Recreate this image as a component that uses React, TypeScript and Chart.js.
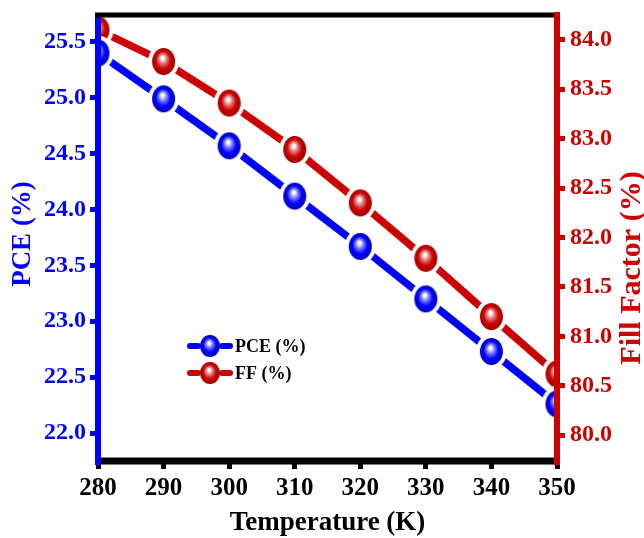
import React, { useEffect, useRef } from 'react';
import { Chart, registerables } from 'chart.js';

Chart.register(...registerables);

const temperatures = [280, 290, 300, 310, 320, 330, 340, 350];
const pceValues = [25.40, 24.99, 24.57, 24.12, 23.67, 23.20, 22.73, 22.26];
const ffValues = [84.10, 83.78, 83.36, 82.89, 82.35, 81.79, 81.20, 80.62];
const pceTicks = [22.0, 22.5, 23.0, 23.5, 24.0, 24.5, 25.0, 25.5];
const ffTicks = [80.0, 80.5, 81.0, 81.5, 82.0, 82.5, 83.0, 83.5, 84.0];
const tempTicks = [280, 290, 300, 310, 320, 330, 340, 350];
const pceLabel = 'PCE (%)';
const ffLabel = 'FF (%)';
const xTitle = 'Temperature (K)';
const yLeftTitle = 'PCE (%)';
const yRightTitle = 'Fill Factor (%)';

const BLUE = '#0000ff';
const RED = '#cc0000';
const SERIF = '"Liberation Serif", "Times New Roman", serif';

function makeSphere(color: string, light: string, dark: string, rx: number, ry: number, ring: number) {
  const c = document.createElement('canvas');
  const w = Math.ceil(2 * (rx + ring));
  const h = Math.ceil(2 * (ry + ring));
  c.width = w;
  c.height = h;
  const ctx = c.getContext('2d')!;
  const cx = w / 2;
  const cy = h / 2;
  if (ring > 0) {
    ctx.fillStyle = '#ffffff';
    ctx.beginPath();
    ctx.ellipse(cx, cy, rx + ring, ry + ring, 0, 0, Math.PI * 2);
    ctx.fill();
  }
  ctx.save();
  ctx.translate(cx, cy);
  ctx.scale(1, ry / rx);
  const g = ctx.createRadialGradient(-rx * 0.1, -rx * 0.3, 0, 0, 0, rx);
  g.addColorStop(0, '#ffffff');
  g.addColorStop(0.1, '#ffffff');
  g.addColorStop(0.35, light);
  g.addColorStop(0.65, color);
  g.addColorStop(1, dark);
  ctx.fillStyle = g;
  ctx.beginPath();
  ctx.arc(0, 0, rx, 0, Math.PI * 2);
  ctx.fill();
  ctx.restore();
  return c;
}

export default function App() {
  const ref = useRef<HTMLCanvasElement>(null);

  useEffect(() => {
    if (!ref.current) return;
    const blueSphere = makeSphere(BLUE, '#7a7aff', '#0000c0', 11.5, 13.5, 4);
    const redSphere = makeSphere(RED, '#e07a7a', '#a00000', 11.5, 13.5, 4);
    const blueSmall = makeSphere(BLUE, '#7a7aff', '#0000c0', 10, 11, 0);
    const redSmall = makeSphere(RED, '#e07a7a', '#a00000', 10, 11, 0);

    const framePlugin = {
      id: 'frame',
      afterDatasetsDraw(chart: any) {
        const { ctx, chartArea: a } = chart;
        ctx.save();
        ctx.lineCap = 'butt';
        // left blue axis
        ctx.strokeStyle = BLUE;
        ctx.lineWidth = 6;
        ctx.beginPath();
        ctx.moveTo(a.left, a.top);
        ctx.lineTo(a.left, a.bottom + 4);
        ctx.stroke();
        // bottom black
        ctx.strokeStyle = '#000';
        ctx.lineWidth = 7;
        ctx.beginPath();
        ctx.moveTo(a.left + 3, a.bottom);
        ctx.lineTo(a.right - 3, a.bottom);
        ctx.stroke();
        // top black
        ctx.lineWidth = 5;
        ctx.beginPath();
        ctx.moveTo(a.left - 3, a.top);
        ctx.lineTo(a.right - 3, a.top);
        ctx.stroke();
        // right red axis
        ctx.strokeStyle = RED;
        ctx.lineWidth = 6;
        ctx.beginPath();
        ctx.moveTo(a.right, a.top - 3);
        ctx.lineTo(a.right, a.bottom + 4);
        ctx.stroke();

        // titles
        ctx.textAlign = 'center';
        ctx.textBaseline = 'middle';
        ctx.fillStyle = BLUE;
        ctx.font = `bold 27px ${SERIF}`;
        ctx.save();
        ctx.translate(23, (a.top + a.bottom) / 2 - 4);
        ctx.rotate(-Math.PI / 2);
        ctx.fillText(yLeftTitle, 0, 0);
        ctx.restore();

        ctx.fillStyle = RED;
        ctx.font = `bold 30px ${SERIF}`;
        ctx.save();
        ctx.translate(a.right + 75, (a.top + a.bottom) / 2 + 30);
        ctx.rotate(-Math.PI / 2);
        ctx.fillText(yRightTitle, 0, 0);
        ctx.restore();

        ctx.fillStyle = '#000';
        ctx.font = `bold 27px ${SERIF}`;
        ctx.textBaseline = 'alphabetic';
        ctx.fillText(xTitle, (a.left + a.right) / 2, a.bottom + 69);

        // legend
        const items = [
          { label: chart.data.datasets[0].label, color: BLUE, img: blueSmall },
          { label: chart.data.datasets[1].label, color: RED, img: redSmall },
        ];
        items.forEach((it, i) => {
          const y = a.top + 331 + i * 27;
          const x0 = a.left + 90;
          ctx.strokeStyle = it.color;
          ctx.lineWidth = 6;
          ctx.lineCap = 'round';
          ctx.beginPath();
          ctx.moveTo(x0 + 2, y);
          ctx.lineTo(x0 + 10, y);
          ctx.moveTo(x0 + 34, y);
          ctx.lineTo(x0 + 42, y);
          ctx.stroke();
          ctx.drawImage(it.img, x0 + 22 - it.img.width / 2, y - it.img.height / 2);
          ctx.fillStyle = '#000';
          ctx.font = `bold 18px ${SERIF}`;
          ctx.textAlign = 'left';
          ctx.textBaseline = 'middle';
          ctx.fillText(it.label, x0 + 47, y + 1);
        });
        ctx.restore();
      },
    };

    const chart = new Chart(ref.current, {
      type: 'line',
      data: {
        datasets: [
          {
            label: pceLabel,
            data: temperatures.map((t, i) => ({ x: t, y: pceValues[i] })),
            yAxisID: 'y',
            borderColor: BLUE,
            backgroundColor: BLUE,
            borderWidth: 7.5,
            pointStyle: blueSphere as any,
            pointRadius: 13,
            clip: 0 as any,
          },
          {
            label: ffLabel,
            data: temperatures.map((t, i) => ({ x: t, y: ffValues[i] })),
            yAxisID: 'y1',
            borderColor: RED,
            backgroundColor: RED,
            borderWidth: 7.5,
            pointStyle: redSphere as any,
            pointRadius: 13,
            clip: 0 as any,
          },
        ],
      },
      options: {
        responsive: false,
        animation: false,
        layout: { autoPadding: false, padding: { top: 15, left: 0, right: 0, bottom: 0 } },
        plugins: { legend: { display: false }, title: { display: false }, tooltip: { enabled: false } },
        scales: {
          x: {
            type: 'linear',
            min: 280,
            max: 350,
            afterBuildTicks: (s: any) => { s.ticks = tempTicks.map((v) => ({ value: v })); },
            afterFit: (s: any) => { s.height = 77; s.paddingLeft = 0; s.paddingRight = 0; },
            grid: { display: true, drawOnChartArea: false, drawTicks: true, tickLength: 8, tickWidth: 5, tickColor: '#000' },
            border: { display: false },
            ticks: { color: '#000', font: { family: SERIF, size: 25, weight: 'bold' }, padding: 5, callback: (v: any) => String(v) },
          },
          y: {
            type: 'linear',
            position: 'left',
            min: 21.75,
            max: 25.74,
            afterBuildTicks: (s: any) => { s.ticks = pceTicks.map((v) => ({ value: v })); },
            afterFit: (s: any) => { s.width = 98; s.paddingTop = 0; s.paddingBottom = 0; },
            grid: { display: true, drawOnChartArea: false, drawTicks: true, tickLength: 8, tickWidth: 5, tickColor: BLUE },
            border: { display: false },
            ticks: { color: BLUE, font: { family: SERIF, size: 24, weight: 'bold' }, padding: 4, callback: (v: any) => Number(v).toFixed(1) },
          },
          y1: {
            type: 'linear',
            position: 'right',
            min: 79.74,
            max: 84.25,
            afterBuildTicks: (s: any) => { s.ticks = ffTicks.map((v) => ({ value: v })); },
            afterFit: (s: any) => { s.width = 87; s.paddingTop = 0; s.paddingBottom = 0; },
            grid: { display: true, drawOnChartArea: false, drawTicks: true, tickLength: 8, tickWidth: 5, tickColor: RED },
            border: { display: false },
            ticks: { color: RED, font: { family: SERIF, size: 24, weight: 'bold' }, padding: 5, callback: (v: any) => Number(v).toFixed(1) },
          },
        },
      },
      plugins: [framePlugin],
    } as any);
    return () => chart.destroy();
  }, []);

  return (
    <div style={{ position: 'absolute', left: 0, top: 0, width: 644, height: 538, background: '#fff' }}>
      <canvas ref={ref} width={644} height={538} />
    </div>
  );
}
